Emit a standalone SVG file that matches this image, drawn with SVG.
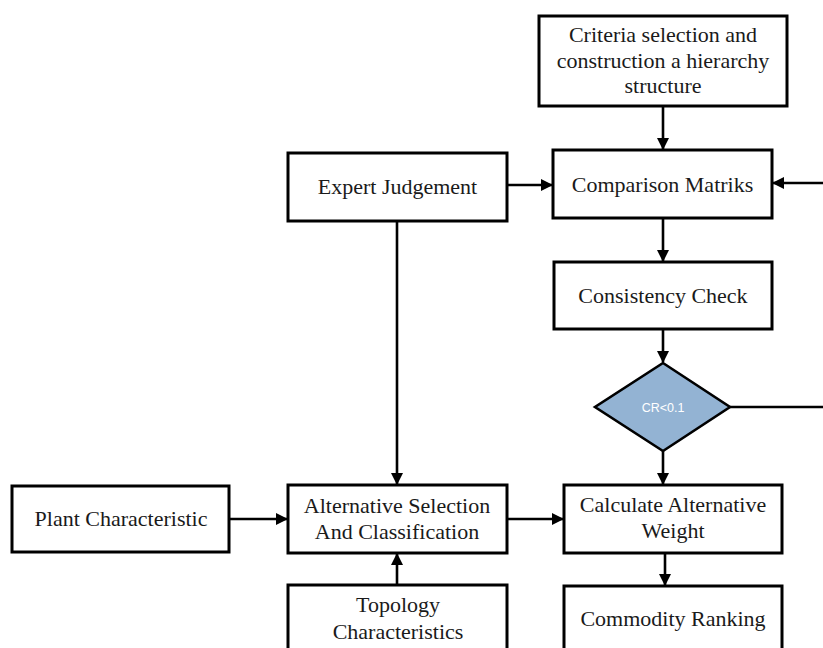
<svg xmlns="http://www.w3.org/2000/svg" width="823" height="648" viewBox="0 0 823 648">
<style>
.box{fill:#ffffff;stroke:#000;stroke-width:3}
.t{font-family:"Liberation Serif","Times New Roman",serif;font-size:22px;fill:#1a1a1a;text-anchor:middle}
.c{fill:none;stroke:#000;stroke-width:2.6}
.dia{fill:#93b3d3;stroke:#000;stroke-width:2.6}
.dt{font-family:"Liberation Sans",Arial,sans-serif;font-size:12.5px;fill:#ffffff;text-anchor:middle}
</style>
<defs>
<marker id="ah" markerWidth="12" markerHeight="12" refX="11" refY="6" orient="auto" markerUnits="userSpaceOnUse">
<path d="M0,0 L12,6 L0,12 Z" fill="#000"/>
</marker>
</defs>
<rect width="823" height="648" fill="#ffffff"/>
<g id="connectors">
<line class="c" x1="663" y1="106" x2="663" y2="149" marker-end="url(#ah)"/>
<line class="c" x1="507" y1="185" x2="552" y2="185" marker-end="url(#ah)"/>
<line class="c" x1="823" y1="183" x2="773" y2="183" marker-end="url(#ah)"/>
<line class="c" x1="663" y1="218" x2="663" y2="261" marker-end="url(#ah)"/>
<line class="c" x1="663" y1="329" x2="663" y2="362" marker-end="url(#ah)"/>
<line class="c" x1="730" y1="407" x2="823" y2="407"/>
<line class="c" x1="663" y1="451" x2="663" y2="484" marker-end="url(#ah)"/>
<line class="c" x1="397" y1="221" x2="397" y2="484" marker-end="url(#ah)"/>
<line class="c" x1="229" y1="519" x2="287" y2="519" marker-end="url(#ah)"/>
<line class="c" x1="397" y1="585" x2="397" y2="554" marker-end="url(#ah)"/>
<line class="c" x1="507" y1="519" x2="563" y2="519" marker-end="url(#ah)"/>
<line class="c" x1="665" y1="553" x2="665" y2="585" marker-end="url(#ah)"/>
</g>
<g id="criteria">
<rect class="box" x="539" y="16" width="248" height="90"/>
<text class="t" x="663" y="42">Criteria selection and</text>
<text class="t" x="663" y="68">construction a hierarchy</text>
<text class="t" x="663" y="93">structure</text>
</g>
<g id="comparison">
<rect class="box" x="553" y="150" width="219" height="68"/>
<text class="t" x="662.5" y="192">Comparison Matriks</text>
</g>
<g id="expert">
<rect class="box" x="288" y="153" width="219" height="68"/>
<text class="t" x="397.5" y="194">Expert Judgement</text>
</g>
<g id="consistency">
<rect class="box" x="554" y="262" width="218" height="67"/>
<text class="t" x="663" y="303">Consistency Check</text>
</g>
<g id="decision">
<polygon class="dia" points="663,363 730,407 663,451 595,407"/>
<text class="dt" x="663" y="412">CR&lt;0.1</text>
</g>
<g id="plant">
<rect class="box" x="12" y="486" width="217" height="66"/>
<text class="t" x="121" y="526">Plant Characteristic</text>
</g>
<g id="alternative">
<rect class="box" x="288" y="485" width="219" height="68"/>
<text class="t" x="397" y="513">Alternative Selection</text>
<text class="t" x="397" y="539">And Classification</text>
</g>
<g id="calculate">
<rect class="box" x="564" y="485" width="218" height="68"/>
<text class="t" x="673" y="512">Calculate Alternative</text>
<text class="t" x="673" y="538">Weight</text>
</g>
<g id="topology">
<rect class="box" x="288" y="585" width="219" height="80"/>
<text class="t" x="398" y="612">Topology</text>
<text class="t" x="398" y="639">Characteristics</text>
</g>
<g id="commodity">
<rect class="box" x="564" y="586" width="218" height="80"/>
<text class="t" x="673" y="626">Commodity Ranking</text>
</g>
</svg>
